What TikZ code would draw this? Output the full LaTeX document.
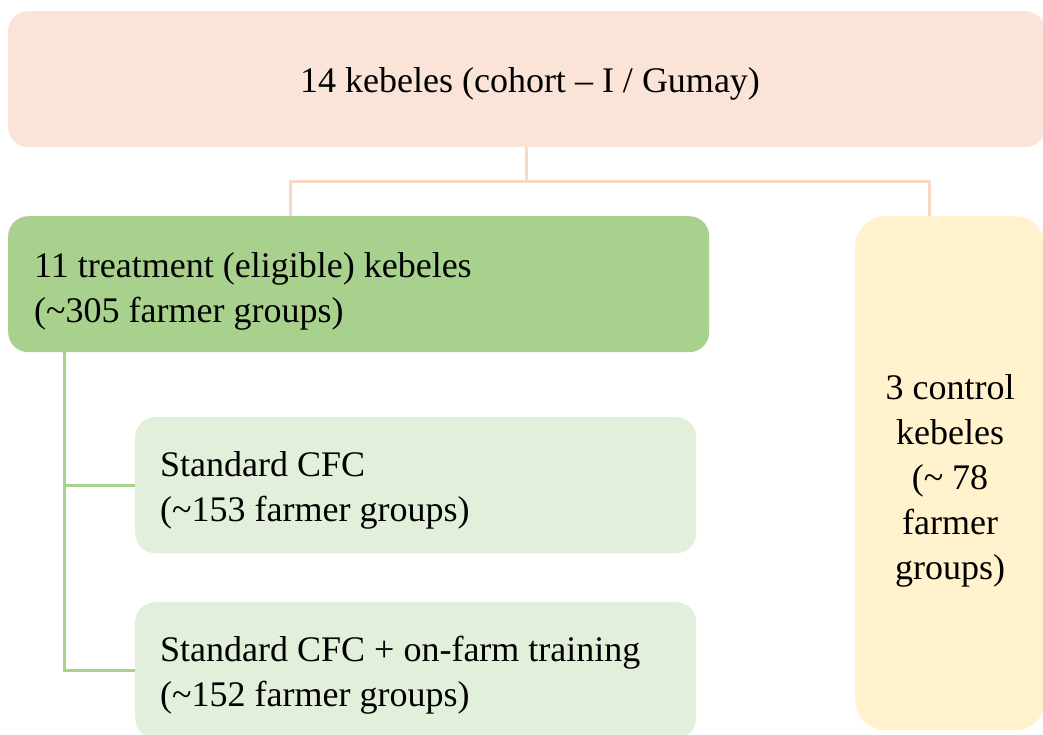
\documentclass[tikz,border=0pt]{standalone}
\usepackage{fontspec}
\setmainfont{Liberation Serif}
\definecolor{peach}{HTML}{FAE4D7}
\definecolor{peachline}{HTML}{F8D9C6}
\definecolor{dgreen}{HTML}{A9D18E}
\definecolor{lgreen}{HTML}{E2EFDA}
\definecolor{lyellow}{HTML}{FFF2CC}
\begin{document}
\begin{tikzpicture}[x=1pt,y=-1pt,
  box/.style={rounded corners=20pt, inner sep=0pt, draw=none},
  txt/.style={inner sep=0pt, font=\fontsize{36}{45}\selectfont},
  pline/.style={draw=peachline, line width=3pt},
  gline/.style={draw=dgreen, line width=3pt}]
\useasboundingbox (0,0) rectangle (1043,735);
\fill[white] (0,0) rectangle (1043,735);
% boxes
\node[box, fill=peach, minimum width=1037pt, minimum height=136pt, anchor=north west] (top) at (8,11) {};
\node[box, fill=dgreen, minimum width=701pt, minimum height=136pt, anchor=north west] (green) at (8,216) {};
\node[box, fill=lgreen, minimum width=561pt, minimum height=136pt, anchor=north west] (b2) at (135,417) {};
\node[box, fill=lgreen, minimum width=561pt, minimum height=136pt, anchor=north west] (b3) at (135,602) {};
\node[box, rounded corners=30pt, fill=lyellow, minimum width=190pt, minimum height=514pt, anchor=north west] (ctrl) at (855,216) {};
% texts
\node[txt, anchor=base] (ttop) at (530,93) {14 kebeles (cohort – I / Gumay)};
\node[txt, anchor=base west, align=left] (tgreen) at (34,322) {11 treatment (eligible) kebeles\\(\textasciitilde305 farmer groups)};
\node[txt, anchor=base west, align=left] (tb2) at (160,521) {Standard CFC\\(\textasciitilde153 farmer groups)};
\node[txt, anchor=base west, align=left] (tb3) at (160,706) {Standard CFC + on-farm training\\(\textasciitilde152 farmer groups)};
\node[txt, anchor=base, align=center] (tctrl) at (950,579) {3 control\\kebeles\\(\textasciitilde{} 78\\farmer\\groups)};
% connectors
\coordinate (j) at (top.south |- 0,182);
\coordinate (gtop) at (290,216);
\coordinate (ytop) at (929,216);
\draw[pline] (top.south) -- (j);
\draw[pline] (gtop) |- (j) -| (ytop);
\coordinate (gl) at (64,352);
\draw[gline] (gl) |- (b2.west);
\draw[gline] (gl) |- (b3.west);
\end{tikzpicture}
\end{document}
